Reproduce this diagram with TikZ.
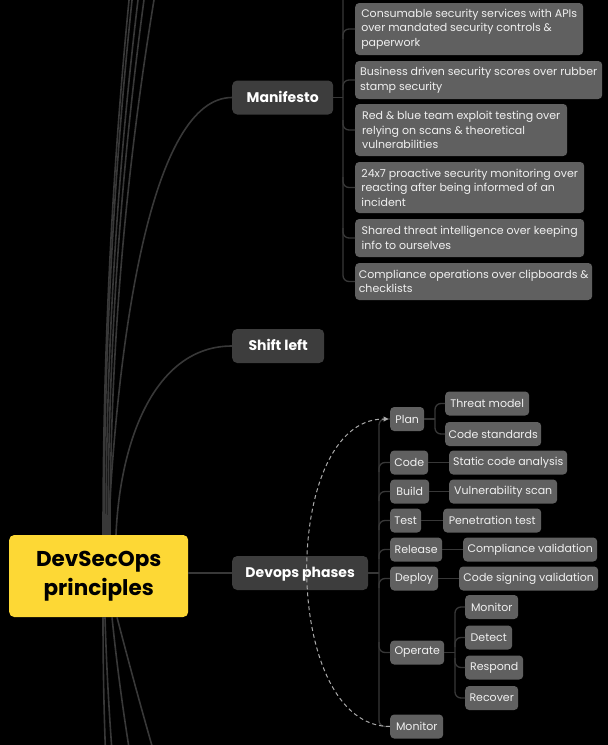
\documentclass[tikz,border=0pt]{standalone}
\usepackage{fontspec}
\setmainfont{Poppins}
\usetikzlibrary{arrows.meta}
\definecolor{ylw}{HTML}{FDD835}
\definecolor{lonefill}{HTML}{3D3D3D}
\definecolor{leaffill}{HTML}{606060}
\definecolor{leaftext}{HTML}{F0F0F0}
\definecolor{conn}{HTML}{383838}
\definecolor{dashc}{HTML}{AAAAAA}
\begin{document}
\begin{tikzpicture}[x=1pt,y=-1pt,
  central/.style={fill=ylw, rounded corners=5pt, anchor=west, inner sep=0pt,
    minimum width=179pt, minimum height=82pt, align=center, text=black,
    font=\fontsize{21.5}{29.5}\selectfont\bfseries},
  lone/.style={fill=lonefill, rounded corners=5pt, anchor=west, inner sep=0pt,
    minimum height=34pt, text=white, text height=12pt, text depth=2.2pt,
    font=\fontsize{14}{17}\selectfont\bfseries},
  leaf/.style={fill=leaffill, rounded corners=4pt, anchor=west, inner sep=0pt,
    minimum height=24pt, text=leaftext, align=left,
    font=\fontsize{11}{14.5}\selectfont},
  curve/.style={draw=conn, line width=1.6pt},
  con/.style={draw=conn, line width=1.3pt, rounded corners=6pt},
  dashline/.style={draw=dashc, line width=1pt, dash pattern=on 4pt off 3pt,
    -{Triangle[length=5pt,width=5pt]}, shorten >=1.5pt}
]
\useasboundingbox (0,0) rectangle (608,745);
\fill[black] (0,0) rectangle (608,745);
\begin{scope}
\clip (0,0) rectangle (608,745);

% central node
\node[central] (c) at (9,576) {DevSecOps\\principles};

% level one nodes
\node[lone, minimum width=101pt] (man) at (232,97.5) {Manifesto};
\node[lone, minimum width=92pt] (shift) at (232,346) {Shift left};
\node[lone, minimum width=136pt] (dev) at (232,573) {Devops phases};

% manifesto children
\node[leaf, minimum width=228pt, minimum height=52pt] (m1) at (355,29)
  {Consumable security services with APIs\\over mandated security controls \&\\paperwork};
\node[leaf, minimum width=247pt, minimum height=38pt] (m2) at (355,80)
  {Business driven security scores over rubber\\stamp security};
\node[leaf, minimum width=212pt, minimum height=52pt] (m3) at (355,130)
  {Red \& blue team exploit testing over\\relying on scans \& theoretical\\vulnerabilities};
\node[leaf, minimum width=229pt, minimum height=51pt] (m4) at (355,187.5)
  {24x7 proactive security monitoring over\\reacting after being informed of an\\incident};
\node[leaf, minimum width=229pt, minimum height=38pt] (m5) at (355,238)
  {Shared threat intelligence over keeping\\info to ourselves};
\node[leaf, minimum width=237pt, minimum height=37pt] (m6) at (355,281.5)
  {Compliance operations over clipboards \&\\checklists};

% devops phases
\node[leaf, minimum width=34pt] (plan) at (390,419) {Plan};
\node[leaf, minimum width=38pt] (code) at (390,462.5) {Code};
\node[leaf, minimum width=39pt] (build) at (390,491.5) {Build};
\node[leaf, minimum width=31pt] (test) at (390,520.5) {Test};
\node[leaf, minimum width=52pt] (rel) at (390,549.5) {Release};
\node[leaf, minimum width=48pt] (dep) at (390,578.5) {Deploy};
\node[leaf, minimum width=54pt] (op) at (390,652.5) {Operate};
\node[leaf, minimum width=53pt] (mon) at (390,726.5) {Monitor};

% phase children
\node[leaf, minimum width=84pt] (tm) at (445,403.5) {Threat model};
\node[leaf, minimum width=96pt] (cs) at (445,434) {Code standards};
\node[leaf, minimum width=118pt] (sca) at (449,462.5) {Static code analysis};
\node[leaf, minimum width=108pt] (vs) at (449,491.5) {Vulnerability scan};
\node[leaf, minimum width=98pt] (pt) at (443,520.5) {Penetration test};
\node[leaf, minimum width=134pt] (cv) at (463,549.5) {Compliance validation};
\node[leaf, minimum width=139pt] (csv) at (459,578.5) {Code signing validation};
\node[leaf, minimum width=53pt] (omon) at (465,607) {Monitor};
\node[leaf, minimum width=47pt] (odet) at (465,637.5) {Detect};
\node[leaf, minimum width=58pt] (ores) at (465,667.5) {Respond};
\node[leaf, minimum width=53pt] (orec) at (465,698) {Recover};

% free ends of branches to nodes outside the picture
\coordinate (upA) at (139.7,-100);
\coordinate (upB) at (143.5,-100);
\coordinate (upC) at (151.1,-100);
\coordinate (upD) at (158.7,-100);
\coordinate (upE) at (172,-100);
\coordinate (dnF) at (107.6,800);
\coordinate (dnG) at (116,800);
\coordinate (dnH) at (137.8,800);
\coordinate (dnI) at (168,800);
\coordinate (mtop) at (343,-20);

% curves from the central node
\draw[curve] (c.north -| 103,0) .. controls (103,322.7) and (115.2,111.3) .. (upA);
\draw[curve] (c.north -| 104,0) .. controls (104,322.7) and (117.2,111.3) .. (upB);
\draw[curve] (c.north -| 106,0) .. controls (106,322.7) and (121,111.3) .. (upC);
\draw[curve] (c.north -| 108,0) .. controls (108,322.7) and (124.9,111.3) .. (upD);
\draw[curve] (c.north -| 110,0) .. controls (110,322.7) and (130.7,111.3) .. (upE);
\draw[curve] (c.north -| 108,0) .. controls (118,330) and (152,97.5) .. (man.west);
\draw[curve] (c.north -| 116,0) .. controls (120,440) and (155,346) .. (shift.west);
\draw[curve] (c.south -| 103,0) .. controls (103,677.3) and (104.5,738.7) .. (dnF);
\draw[curve] (c.south -| 105,0) .. controls (106.8,677.3) and (110.5,738.7) .. (dnG);
\draw[curve] (c.south -| 112,0) .. controls (118.1,677.3) and (126.8,738.7) .. (dnH);
\draw[curve] (c.south -| 117,0) .. controls (132.6,677.3) and (149.4,738.7) .. (dnI);
\draw[curve] (c.east |- dev.west) -- (dev.west);

% manifesto tree
\draw[con] (man.east) -- (343,97.5);
\draw[con] (mtop) -- (343,281.5) -- (m6.west);
\draw[con] (343,39) |- (m1.west);
\draw[con] (343,90) |- (m2.west);
\draw[con] (343,120) |- (m3.west);
\draw[con] (343,177) |- (m4.west);
\draw[con] (343,228) |- (m5.west);

% devops phases tree
\draw[con] (dev.east) -- (379,573);
\draw[con] (plan.west) -- (379,419) -- (379,726.5) -- (mon.west);
\draw[con] (379,472) |- (code.west);
\draw[con] (379,501) |- (build.west);
\draw[con] (379,530) |- (test.west);
\draw[con] (379,559) |- (rel.west);
\draw[con] (379,588) |- (dep.west);
\draw[con] (379,642) |- (op.west);

% plan tree
\draw[con] (plan.east) -- (435,419);
\draw[con] (tm.west) -- (435,403.5) -- (435,434) -- (cs.west);
% single children
\draw[con] (code.east) -- (sca.west);
\draw[con] (build.east) -- (vs.west);
\draw[con] (test.east) -- (pt.west);
\draw[con] (rel.east) -- (cv.west);
\draw[con] (dep.east) -- (csv.west);
% operate tree
\draw[con] (op.east) -- (455,652.5);
\draw[con] (omon.west) -- (455,607) -- (455,698) -- (orec.west);
\draw[con] (455,647) |- (odet.west);
\draw[con] (455,658) |- (ores.west);

% dashed loop
\draw[dashline] (mon.west) .. controls +(-110,0) and +(-110,0) .. (plan.west);
\end{scope}
\end{tikzpicture}
\end{document}
